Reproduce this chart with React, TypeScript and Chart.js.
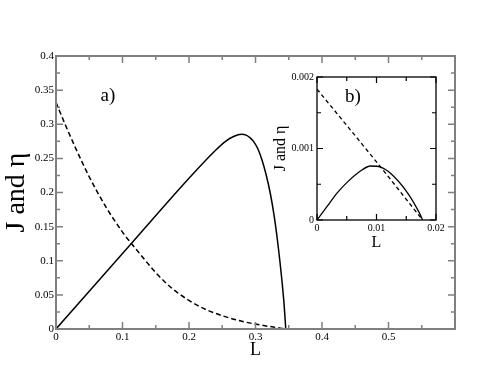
import React, { useEffect, useRef } from 'react';
import { Chart, registerables } from 'chart.js';

Chart.register(...registerables);

// ---- main panel a) ----
const mainJ_L = [0, 0.1, 0.2, 0.24, 0.255, 0.267, 0.279, 0.286, 0.292, 0.298, 0.304, 0.31, 0.316, 0.322, 0.328, 0.334, 0.339, 0.343, 0.3455];
const mainJ = [0, 0.1105, 0.221, 0.262, 0.275, 0.282, 0.2853, 0.284, 0.28, 0.2735, 0.263, 0.247, 0.226, 0.2, 0.166, 0.122, 0.078, 0.036, 0];
const mainEta_L = [0, 0.015, 0.03, 0.05, 0.075, 0.1, 0.1128, 0.1263, 0.1514, 0.1764, 0.2015, 0.2266, 0.2516, 0.2767, 0.3018, 0.327, 0.3455];
const mainEta = [0.332, 0.297, 0.264, 0.223, 0.179, 0.142, 0.126, 0.11, 0.081, 0.058, 0.041, 0.028, 0.019, 0.012, 0.0068, 0.0028, 0];

// ---- inset b) ----
const insetJ_L = [0, 0.0017, 0.0034, 0.0051, 0.0073, 0.009, 0.0107, 0.0124, 0.0153, 0.0172, 0.01775];
const insetJ = [0, 0.00019, 0.00038, 0.00053, 0.000685, 0.000755, 0.00074, 0.00065, 0.00037, 0.0001, 0];
const insetEta_L = [0, 0.0107, 0.01775];
const insetEta = [0.00183, 0.00074, 0];

// axis ranges / tick steps
const mainX = { min: 0, max: 0.6, step: 0.1, lastLabel: 0.5 };
const mainY = { min: 0, max: 0.4, step: 0.05 };
const insetX = { min: 0, max: 0.02, step: 0.01 };
const insetY = { min: 0, max: 0.002, step: 0.001 };

const SERIF = "'Liberation Serif', 'DejaVu Serif', serif";
const fmt = (v: number) => String(parseFloat(Number(v).toFixed(6)));
const pts = (xs: number[], ys: number[]) => xs.map((x, i) => ({ x, y: ys[i] }));

function framePlugin(id: string, color: string, frameW: number, tickW: number, major: number, minor: number,
  label: { text: string; x: number; y: number; size: number }) {
  return {
    id,
    afterDraw(chart: any) {
      const { ctx, chartArea: a, scales } = chart;
      const xs = scales.x, ys = scales.y;
      ctx.save();
      ctx.strokeStyle = color;
      ctx.lineWidth = tickW;
      const drawX = (v: number, len: number) => {
        const p = xs.getPixelForValue(v);
        ctx.beginPath();
        ctx.moveTo(p, a.bottom); ctx.lineTo(p, a.bottom - len);
        ctx.moveTo(p, a.top); ctx.lineTo(p, a.top + len);
        ctx.stroke();
      };
      const drawY = (v: number, len: number) => {
        const p = ys.getPixelForValue(v);
        ctx.beginPath();
        ctx.moveTo(a.left, p); ctx.lineTo(a.left + len, p);
        ctx.moveTo(a.right, p); ctx.lineTo(a.right - len, p);
        ctx.stroke();
      };
      const xt = xs.ticks.map((t: any) => t.value);
      const yt = ys.ticks.map((t: any) => t.value);
      xt.forEach((v: number, i: number) => {
        drawX(v, major);
        if (i < xt.length - 1) drawX((v + xt[i + 1]) / 2, minor);
      });
      yt.forEach((v: number, i: number) => {
        drawY(v, major);
        if (i < yt.length - 1) drawY((v + yt[i + 1]) / 2, minor);
      });
      ctx.lineWidth = frameW;
      ctx.strokeRect(a.left, a.top, a.right - a.left, a.bottom - a.top);
      ctx.fillStyle = '#000';
      ctx.font = `${label.size}px ${SERIF}`;
      ctx.textAlign = 'center';
      ctx.textBaseline = 'middle';
      ctx.fillText(label.text, xs.getPixelForValue(label.x), ys.getPixelForValue(label.y));
      ctx.restore();
    },
  };
}

function makeConfig(o: any): any {
  return {
    type: 'scatter',
    data: {
      datasets: [
        {
          data: pts(o.jL, o.j), showLine: true, borderColor: '#000', borderWidth: o.lw,
          pointRadius: 0, cubicInterpolationMode: 'monotone', fill: false,
        },
        {
          data: pts(o.eL, o.e), showLine: true, borderColor: '#000', borderWidth: o.lw,
          borderDash: o.dash, pointRadius: 0, cubicInterpolationMode: 'monotone', fill: false,
        },
      ],
    },
    options: {
      responsive: false,
      animation: false,
      events: [],
      layout: { padding: o.pad },
      plugins: { legend: { display: false }, tooltip: { enabled: false } },
      scales: {
        x: {
          type: 'linear', min: o.xr.min, max: o.xr.max,
          grid: { display: false, drawTicks: false },
          border: { display: false },
          ticks: {
            stepSize: o.xr.step, padding: o.xPad, color: '#000', maxRotation: 0,
            font: { family: SERIF, size: o.tickSize },
            callback: (v: number) => (o.xr.lastLabel !== undefined && v > o.xr.lastLabel + 1e-9 ? '' : fmt(v)),
          },
          title: { display: true, text: 'L', color: '#000', font: { family: SERIF, size: o.xTitleSize }, padding: { top: 0, bottom: o.xTitlePad } },
          afterFit: (s: any) => { s.height = o.xH; },
        },
        y: {
          type: 'linear', min: o.yr.min, max: o.yr.max,
          grid: { display: false, drawTicks: false },
          border: { display: false },
          ticks: {
            stepSize: o.yr.step, padding: o.yPad, color: '#000',
            font: { family: SERIF, size: o.tickSize },
            callback: (v: number) => fmt(v),
          },
          title: { display: true, text: 'J and η', color: '#000', font: { family: SERIF, size: o.yTitleSize }, padding: { top: o.yTitlePad, bottom: 0 } },
          afterFit: (s: any) => { s.width = o.yW; },
        },
      },
    },
    plugins: [o.plugin],
  };
}

export default function App() {
  const mainRef = useRef<HTMLCanvasElement>(null);
  const insetRef = useRef<HTMLCanvasElement>(null);

  useEffect(() => {
    const main = new Chart(mainRef.current as HTMLCanvasElement, makeConfig({
      jL: mainJ_L, j: mainJ, eL: mainEta_L, e: mainEta, lw: 1.5, dash: [5, 3],
      pad: { left: 0, top: 56, right: 39, bottom: 0 },
      xr: mainX, yr: mainY, xH: 53, yW: 56, xPad: 2, yPad: 2, tickSize: 11,
      xTitleSize: 18, xTitlePad: 21, yTitleSize: 28, yTitlePad: 0,
      plugin: framePlugin('frameMain', '#808080', 2, 1.5, 7, 4, { text: 'a)', x: 0.078, y: 0.341, size: 19 }),
    }));
    const inset = new Chart(insetRef.current as HTMLCanvasElement, makeConfig({
      jL: insetJ_L, j: insetJ, eL: insetEta_L, e: insetEta, lw: 1.3, dash: [4, 3],
      pad: { left: 265, top: 77, right: 58, bottom: 127 },
      xr: insetX, yr: insetY, xH: 35, yW: 52, xPad: 2, yPad: 3, tickSize: 10,
      xTitleSize: 16, xTitlePad: 3, yTitleSize: 16, yTitlePad: 6,
      plugin: framePlugin('frameInset', '#000', 1.3, 1.2, 6, 4, { text: 'b)', x: 0.00605, y: 0.00172, size: 19 }),
    }));
    return () => { main.destroy(); inset.destroy(); };
  }, []);

  return (
    <div style={{ position: 'absolute', left: 0, top: 0, width: 494, height: 382, background: '#fff' }}>
      <canvas ref={mainRef} width={494} height={382} style={{ position: 'absolute', left: 0, top: 0 }} />
      <canvas ref={insetRef} width={494} height={382} style={{ position: 'absolute', left: 0, top: 0 }} />
    </div>
  );
}
